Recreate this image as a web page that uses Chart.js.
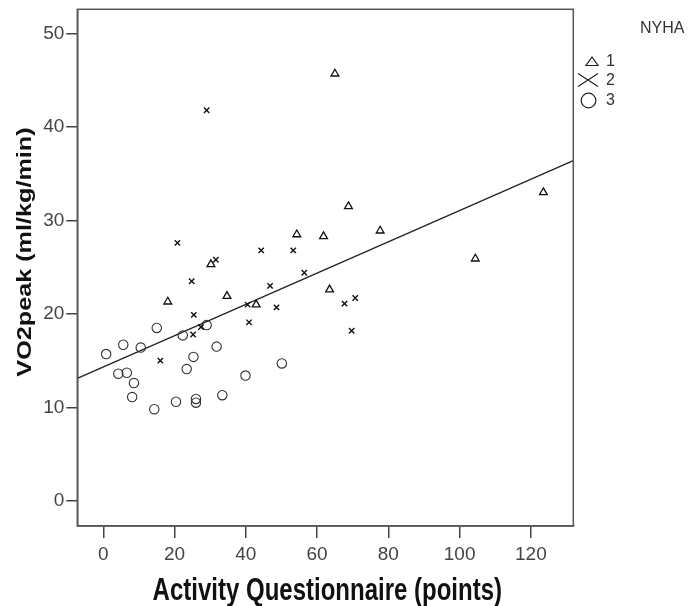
<!DOCTYPE html>
<html>
<head>
<meta charset="utf-8">
<script src="https://cdn.jsdelivr.net/npm/chart.js@4"></script>
<style>
  html, body { margin: 0; padding: 0; background: #fff; }
  #wrap { width: 691px; height: 606px; }
</style>
</head>
<body>
<div id="wrap"><canvas id="myChart" width="691" height="606"></canvas></div>
<script>
// NYHA 1 (triangles)
const nyha1X = [65.0, 68.8, 123.5, 77.7, 104.4, 54.3, 61.8, 63.5, 30.2, 18.1, 34.7, 42.9];
const nyha1Y = [45.7, 31.5, 33.0, 28.9, 25.9, 28.5, 28.3, 22.6, 25.3, 21.3, 21.9, 21.0];

// NYHA 2 (crosses)
const nyha2X = [29.0, 20.8, 44.3, 53.3, 31.6, 56.4, 24.8, 46.8, 40.5, 48.6, 67.7, 70.7, 69.7, 25.4, 40.9, 27.4, 25.2, 16.0];
const nyha2Y = [41.8, 27.6, 26.8, 26.8, 25.8, 24.4, 23.5, 23.0, 21.0, 20.7, 21.1, 21.7, 18.2, 19.9, 19.1, 18.6, 17.8, 15.0];

// NYHA 3 (circles)
const nyha3X = [0.8, 5.6, 10.5, 15.0, 22.3, 29.0, 31.8, 25.3, 23.4, 4.2, 6.6, 8.6, 8.1, 14.3, 20.4, 26.0, 26.0, 33.4, 39.9, 50.1];
const nyha3Y = [15.7, 16.7, 16.4, 18.5, 17.7, 18.8, 16.5, 15.4, 14.1, 13.6, 13.7, 12.6, 11.1, 9.8, 10.6, 10.9, 10.5, 11.3, 13.4, 14.7];

// fit line end points
const fitX = [-7.3, 131.9];
const fitY = [13.1, 36.4];

const xTicks = [0, 20, 40, 60, 80, 100, 120];
const yTicks = [0, 10, 20, 30, 40, 50];
const groups = ['1', '2', '3'];
const xTitle = 'Activity Questionnaire (points)';
const yTitle = 'VO2peak (ml/kg/min)';
const legendTitle = 'NYHA';

const fuente = '"Liberation Sans", Arial, sans-serif';

function pares(xs, ys) {
    return xs.map((x, i) => ({ x: x, y: ys[i] }));
}

// marco, titulos (algo estirados, como en el original) y leyenda
const marcoYLeyenda = {
    id: 'marcoYLeyenda',
    afterDraw(chart) {
        const ctx = chart.ctx;
        const a = chart.chartArea;
        ctx.save();
        ctx.strokeStyle = '#555';
        ctx.lineWidth = 1.5;
        ctx.strokeRect(a.left, a.top, a.right - a.left, a.bottom - a.top);

        // titulo eje x
        ctx.fillStyle = '#111';
        ctx.font = 'bold 24px ' + fuente;
        ctx.textAlign = 'center';
        ctx.textBaseline = 'alphabetic';
        ctx.save();
        ctx.translate((a.left + a.right) / 2 + 2, 600);
        ctx.scale(1, 1.28);
        ctx.fillText(xTitle, 0, 0);
        ctx.restore();

        // titulo eje y
        ctx.save();
        ctx.font = 'bold 21px ' + fuente;
        ctx.translate(31, 252);
        ctx.rotate(-Math.PI / 2);
        ctx.scale(1.2, 1);
        ctx.fillText(yTitle, 0, 0);
        ctx.restore();

        // leyenda
        ctx.fillStyle = '#333';
        ctx.font = '16px ' + fuente;
        ctx.textBaseline = 'middle';
        ctx.textAlign = 'left';
        ctx.fillText(legendTitle, 640, 29);

        ctx.strokeStyle = '#222';
        ctx.lineWidth = 1.2;
        // triangulo
        ctx.beginPath();
        ctx.moveTo(586, 65.5);
        ctx.lineTo(598, 65.5);
        ctx.lineTo(592, 57);
        ctx.closePath();
        ctx.stroke();
        // cruz
        ctx.beginPath();
        ctx.moveTo(578, 73.5);
        ctx.lineTo(598, 86.5);
        ctx.moveTo(578, 86.5);
        ctx.lineTo(598, 73.5);
        ctx.stroke();
        // circulo
        ctx.beginPath();
        ctx.arc(588.5, 100.5, 7.3, 0, Math.PI * 2);
        ctx.stroke();

        ctx.font = '16px ' + fuente;
        const ys = [62, 80.5, 101];
        for (let i = 0; i < 3; i++) {
            ctx.fillText(groups[i], 606, ys[i]);
        }
        ctx.restore();
    }
};

const ctx = document.getElementById('myChart').getContext('2d');

const miGrafico = new Chart(ctx, {
    type: 'scatter',
    data: {
        datasets: [
            {
                label: 'NYHA 1',
                data: pares(nyha1X, nyha1Y),
                pointStyle: 'triangle',
                pointRadius: 4.5,
                borderColor: '#111',
                backgroundColor: 'rgba(0,0,0,0)',
                pointBorderWidth: 1.3
            },
            {
                label: 'NYHA 2',
                data: pares(nyha2X, nyha2Y),
                pointStyle: 'crossRot',
                pointRadius: 3.8,
                borderColor: '#111',
                pointBorderWidth: 1.4
            },
            {
                label: 'NYHA 3',
                data: pares(nyha3X, nyha3Y),
                pointStyle: 'circle',
                pointRadius: 4.7,
                borderColor: '#333',
                backgroundColor: 'rgba(0,0,0,0)',
                pointBorderWidth: 1.1
            },
            {
                type: 'line',
                label: 'fit',
                data: pares(fitX, fitY),
                borderColor: '#222',
                borderWidth: 1.3,
                pointRadius: 0,
                fill: false
            }
        ]
    },
    options: {
        responsive: false,
        animation: false,
        layout: { padding: { left: 0, right: 117.7, top: 9.3, bottom: 0 } },
        plugins: {
            legend: { display: false },
            tooltip: { enabled: false }
        },
        scales: {
            x: {
                type: 'linear',
                min: -7.3,
                max: 131.9,
                afterBuildTicks: s => { s.ticks = xTicks.map(v => ({ value: v })); },
                afterFit: s => { s.height = 80; s.paddingLeft = 0; s.paddingRight = 0; },
                grid: { drawOnChartArea: false, drawTicks: true, tickLength: 12, color: '#444', lineWidth: 1.5 },
                border: { display: true, color: '#555', width: 1.5 },
                ticks: {
                    color: '#444',
                    padding: 5,
                    font: { family: fuente, size: 19 }
                },
                title: { display: false }
            },
            y: {
                type: 'linear',
                min: -2.7,
                max: 52.6,
                afterBuildTicks: s => { s.ticks = yTicks.map(v => ({ value: v })); },
                afterFit: s => { s.width = 77.3; s.paddingTop = 0; s.paddingBottom = 0; },
                grid: { drawOnChartArea: false, drawTicks: true, tickLength: 11, color: '#444', lineWidth: 1.5 },
                border: { display: true, color: '#555', width: 1.5 },
                ticks: {
                    color: '#444',
                    padding: 2,
                    font: { family: fuente, size: 19 }
                },
                title: { display: false }
            }
        }
    },
    plugins: [marcoYLeyenda]
});
</script>
</body>
</html>
